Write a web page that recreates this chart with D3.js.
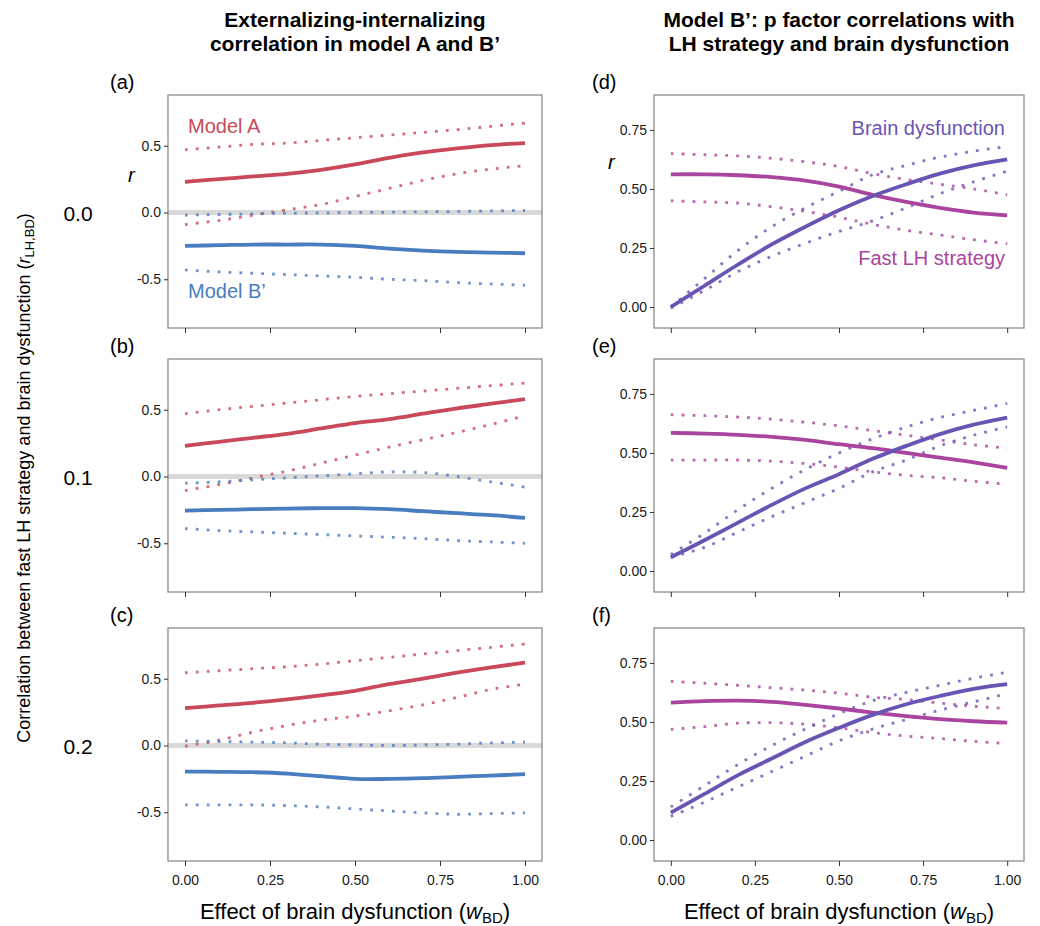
<!DOCTYPE html>
<html>
<head>
<meta charset="utf-8">
<script src="https://cdn.jsdelivr.net/npm/d3@7"></script>
<style>
  body { margin: 0; background: #fff; }
  svg { display: block; font-family: "Liberation Sans", Arial, sans-serif; }
</style>
</head>
<body>
<svg id="chart" width="1040" height="926"></svg>
<script>
// effect of brain dysfunction (w_BD)
const wBD = [0, 0.1, 0.2, 0.3, 0.4, 0.5, 0.6, 0.7, 0.8, 0.9, 1.0];

// left column: externalizing-internalizing correlation, r_LH,BD = 0.0 / 0.1 / 0.2
const aModelA   = [0.23, 0.25, 0.27, 0.29, 0.32, 0.36, 0.41, 0.45, 0.48, 0.505, 0.52];
const aModelAHi = [0.47, 0.49, 0.51, 0.52, 0.54, 0.56, 0.58, 0.60, 0.62, 0.645, 0.67];
const aModelALo = [-0.09, -0.06, -0.02, 0.02, 0.06, 0.12, 0.18, 0.24, 0.29, 0.325, 0.35];
const aModelB   = [-0.25, -0.245, -0.24, -0.24, -0.24, -0.25, -0.27, -0.285, -0.295, -0.30, -0.305];
const aModelBHi = [-0.02, -0.015, -0.01, -0.005, -0.003, 0, 0.002, 0.005, 0.008, 0.012, 0.015];
const aModelBLo = [-0.43, -0.445, -0.455, -0.465, -0.475, -0.485, -0.50, -0.51, -0.525, -0.535, -0.545];

const bModelA   = [0.23, 0.26, 0.29, 0.32, 0.36, 0.40, 0.43, 0.47, 0.51, 0.545, 0.58];
const bModelAHi = [0.47, 0.50, 0.525, 0.55, 0.575, 0.60, 0.62, 0.64, 0.66, 0.68, 0.70];
const bModelALo = [-0.105, -0.06, -0.01, 0.04, 0.10, 0.16, 0.22, 0.275, 0.33, 0.39, 0.455];
const bModelB   = [-0.255, -0.25, -0.245, -0.24, -0.237, -0.237, -0.245, -0.26, -0.275, -0.29, -0.31];
const bModelBHi = [-0.05, -0.04, -0.025, -0.01, 0.005, 0.02, 0.035, 0.03, 0.0, -0.04, -0.08];
const bModelBLo = [-0.39, -0.405, -0.415, -0.425, -0.435, -0.445, -0.455, -0.465, -0.48, -0.49, -0.50];

const cModelA   = [0.28, 0.30, 0.32, 0.345, 0.375, 0.41, 0.46, 0.50, 0.545, 0.585, 0.62];
const cModelAHi = [0.545, 0.56, 0.575, 0.59, 0.61, 0.635, 0.66, 0.685, 0.71, 0.735, 0.76];
const cModelALo = [-0.005, 0.04, 0.10, 0.15, 0.19, 0.22, 0.26, 0.305, 0.36, 0.42, 0.46];
const cModelB   = [-0.195, -0.197, -0.20, -0.21, -0.23, -0.25, -0.25, -0.245, -0.235, -0.225, -0.215];
const cModelBHi = [0.035, 0.03, 0.025, 0.02, 0.01, 0.005, 0.0, 0.005, 0.01, 0.02, 0.025];
const cModelBLo = [-0.445, -0.445, -0.445, -0.45, -0.46, -0.475, -0.49, -0.505, -0.515, -0.51, -0.505];

// right column: model B' p factor correlations
const dBrain   = [0.0, 0.09, 0.18, 0.265, 0.34, 0.41, 0.47, 0.52, 0.565, 0.60, 0.625];
const dBrainHi = [0.0, 0.12, 0.24, 0.34, 0.42, 0.49, 0.56, 0.60, 0.635, 0.66, 0.68];
const dBrainLo = [-0.005, 0.07, 0.15, 0.215, 0.27, 0.32, 0.365, 0.42, 0.48, 0.53, 0.575];
const dLH      = [0.562, 0.562, 0.558, 0.55, 0.535, 0.51, 0.475, 0.445, 0.42, 0.40, 0.388];
const dLHHi    = [0.65, 0.645, 0.64, 0.63, 0.615, 0.595, 0.565, 0.54, 0.52, 0.50, 0.475];
const dLHLo    = [0.45, 0.445, 0.44, 0.425, 0.405, 0.38, 0.35, 0.325, 0.305, 0.285, 0.268];

const eBrain   = [0.058, 0.13, 0.205, 0.28, 0.35, 0.41, 0.475, 0.53, 0.58, 0.62, 0.65];
const eBrainHi = [0.07, 0.16, 0.26, 0.35, 0.43, 0.50, 0.56, 0.61, 0.65, 0.68, 0.71];
const eBrainLo = [0.058, 0.10, 0.165, 0.23, 0.29, 0.35, 0.42, 0.47, 0.53, 0.575, 0.61];
const eLH      = [0.585, 0.582, 0.577, 0.568, 0.555, 0.537, 0.52, 0.50, 0.48, 0.46, 0.437];
const eLHHi    = [0.662, 0.658, 0.652, 0.643, 0.63, 0.615, 0.595, 0.575, 0.555, 0.535, 0.52];
const eLHLo    = [0.47, 0.47, 0.47, 0.465, 0.455, 0.44, 0.42, 0.405, 0.395, 0.38, 0.368];

const fBrain   = [0.116, 0.195, 0.275, 0.345, 0.415, 0.475, 0.53, 0.575, 0.61, 0.64, 0.66];
const fBrainHi = [0.14, 0.23, 0.32, 0.40, 0.47, 0.535, 0.59, 0.625, 0.655, 0.685, 0.71];
const fBrainLo = [0.10, 0.16, 0.225, 0.29, 0.355, 0.42, 0.47, 0.51, 0.55, 0.585, 0.62];
const fLH      = [0.582, 0.588, 0.59, 0.585, 0.572, 0.557, 0.54, 0.525, 0.512, 0.503, 0.497];
const fLHHi    = [0.672, 0.664, 0.655, 0.645, 0.635, 0.622, 0.605, 0.595, 0.58, 0.567, 0.556];
const fLHLo    = [0.469, 0.48, 0.495, 0.497, 0.49, 0.475, 0.455, 0.44, 0.43, 0.418, 0.408];

const xTicks = [0, 0.25, 0.5, 0.75, 1];
const leftTicks = [-0.5, 0, 0.5];
const rightTicks = [0, 0.25, 0.5, 0.75];
const rowLabels = ['0.0', '0.1', '0.2'];

const RED = '#c9495a', BLUE = '#4a7cc0', PURPLE = '#6a54b3', MAGENTA = '#a9449f';

const svg = d3.select('#chart');

const rows = [{ top: 95, bottom: 328 }, { top: 359, bottom: 592 }, { top: 628, bottom: 861 }];
const cols = [{ left: 168, right: 542 }, { left: 654, right: 1024 }];

const panels = [
    { tag: '(a)', col: 0, row: 0, series: [[aModelAHi, RED, true], [aModelALo, RED, true], [aModelBHi, BLUE, true], [aModelBLo, BLUE, true], [aModelA, RED], [aModelB, BLUE]] },
    { tag: '(b)', col: 0, row: 1, series: [[bModelAHi, RED, true], [bModelALo, RED, true], [bModelBHi, BLUE, true], [bModelBLo, BLUE, true], [bModelA, RED], [bModelB, BLUE]] },
    { tag: '(c)', col: 0, row: 2, series: [[cModelAHi, RED, true], [cModelALo, RED, true], [cModelBHi, BLUE, true], [cModelBLo, BLUE, true], [cModelA, RED], [cModelB, BLUE]] },
    { tag: '(d)', col: 1, row: 0, series: [[dLHHi, MAGENTA, true], [dLHLo, MAGENTA, true], [dBrainHi, PURPLE, true], [dBrainLo, PURPLE, true], [dLH, MAGENTA], [dBrain, PURPLE]] },
    { tag: '(e)', col: 1, row: 1, series: [[eLHHi, MAGENTA, true], [eLHLo, MAGENTA, true], [eBrainHi, PURPLE, true], [eBrainLo, PURPLE, true], [eLH, MAGENTA], [eBrain, PURPLE]] },
    { tag: '(f)', col: 1, row: 2, series: [[fLHHi, MAGENTA, true], [fLHLo, MAGENTA, true], [fBrainHi, PURPLE, true], [fBrainLo, PURPLE, true], [fLH, MAGENTA], [fBrain, PURPLE]] }
];

panels.forEach(p => {
    const c = cols[p.col], r = rows[p.row];
    const x = d3.scaleLinear().domain([-0.05, 1.05]).range([c.left, c.right]);
    const y = p.col === 0
        ? d3.scaleLinear().domain([-0.865, 0.88]).range([r.bottom, r.top])
        : d3.scaleLinear().domain([-0.089, 0.898]).range([r.bottom, r.top]);
    const g = svg.append('g');

    // zero reference line in the left column
    if (p.col === 0) {
        g.append('line')
            .attr('x1', c.left).attr('x2', c.right)
            .attr('y1', y(0)).attr('y2', y(0))
            .attr('stroke', '#d9d9d9').attr('stroke-width', 5);
    }

    const line = d3.line()
        .x((d, i) => x(wBD[i]))
        .y(d => y(d))
        .curve(d3.curveCatmullRom.alpha(0.5));

    p.series.forEach(([vals, color, dotted]) => {
        g.append('path')
            .attr('d', line(vals))
            .attr('fill', 'none')
            .attr('stroke', color)
            .attr('stroke-opacity', dotted ? 0.8 : 1)
            .attr('stroke-width', dotted ? 2.8 : 3.8)
            .attr('stroke-dasharray', dotted ? '2.8 8.1' : null);
    });

    // panel box
    g.append('rect')
        .attr('x', c.left).attr('y', r.top)
        .attr('width', c.right - c.left).attr('height', r.bottom - r.top)
        .attr('fill', 'none').attr('stroke', '#8c8c8c').attr('stroke-width', 1.3);

    // y axis
    const yAxis = d3.axisLeft(y)
        .tickValues(p.col === 0 ? leftTicks : rightTicks)
        .tickFormat(d => p.col === 0 ? d.toFixed(1) : d.toFixed(2))
        .tickSize(4).tickPadding(3);
    const ya = g.append('g').attr('transform', `translate(${c.left},0)`).call(yAxis);
    ya.select('.domain').remove();
    ya.selectAll('text').attr('font-size', 14).attr('fill', '#1a1a1a').attr('font-family', null);
    ya.selectAll('line').attr('stroke', '#333');

    // x axis
    const xAxis = d3.axisBottom(x)
        .tickValues(xTicks)
        .tickFormat(p.row === 2 ? (d => d.toFixed(2)) : '')
        .tickSize(5).tickPadding(9);
    const xa = g.append('g').attr('transform', `translate(0,${r.bottom})`).call(xAxis);
    xa.select('.domain').remove();
    xa.selectAll('text').attr('font-size', 14).attr('fill', '#1a1a1a').attr('font-family', null);
    xa.selectAll('line').attr('stroke', '#333');

    // panel tag
    svg.append('text')
        .attr('x', p.col === 0 ? 110 : 592)
        .attr('y', r.top - 6)
        .attr('font-size', 20)
        .text(p.tag);
});

// in-panel labels
svg.append('text').attr('x', 188).attr('y', 133).attr('font-size', 20).attr('fill', RED).text('Model A');
svg.append('text').attr('x', 188).attr('y', 298).attr('font-size', 20).attr('fill', BLUE).text('Model B\u2019');
svg.append('text').attr('x', 1005).attr('y', 135).attr('font-size', 20).attr('fill', PURPLE).attr('text-anchor', 'end').text('Brain dysfunction');
svg.append('text').attr('x', 1005).attr('y', 265).attr('font-size', 20).attr('fill', MAGENTA).attr('text-anchor', 'end').text('Fast LH strategy');

// italic r axis labels in the top row
svg.append('text').attr('x', 128).attr('y', 182).attr('font-size', 20).attr('font-style', 'italic').text('r');
svg.append('text').attr('x', 608).attr('y', 169).attr('font-size', 20).attr('font-style', 'italic').text('r');

// row labels (r_LH,BD values)
rowLabels.forEach((t, i) => {
    const r = rows[i];
    const y = d3.scaleLinear().domain([-0.865, 0.88]).range([r.bottom, r.top]);
    svg.append('text').attr('x', 78).attr('y', y(0) + 8)
        .attr('font-size', 21).attr('text-anchor', 'middle').text(t);
});

// column titles
const titles = [
    ['Externalizing-internalizing', 'correlation in model A and B\u2019'],
    ['Model B\u2019: p factor correlations with', 'LH strategy and brain dysfunction']
];
titles.forEach((lines, i) => {
    const cx = (cols[i].left + cols[i].right) / 2;
    lines.forEach((t, j) => {
        svg.append('text')
            .attr('x', cx).attr('y', 27 + j * 24)
            .attr('font-size', 21).attr('font-weight', 'bold')
            .attr('text-anchor', 'middle').text(t);
    });
});

// x axis titles
cols.forEach(c => {
    const t = svg.append('text')
        .attr('x', (c.left + c.right) / 2).attr('y', 919)
        .attr('font-size', 22).attr('text-anchor', 'middle');
    t.append('tspan').text('Effect of brain dysfunction (');
    t.append('tspan').attr('font-style', 'italic').text('w');
    t.append('tspan').attr('font-size', 15).attr('dy', 4).text('BD');
    t.append('tspan').attr('dy', -4).text(')');
});

// y axis title
const yt = svg.append('text')
    .attr('transform', 'translate(30,478) rotate(-90)')
    .attr('font-size', 18).attr('text-anchor', 'middle');
yt.append('tspan').text('Correlation between fast LH strategy and brain dysfunction (');
yt.append('tspan').attr('font-style', 'italic').text('r');
yt.append('tspan').attr('font-size', 13).attr('dy', 4).text('LH,BD');
yt.append('tspan').attr('dy', -4).text(')');
</script>
</body>
</html>
